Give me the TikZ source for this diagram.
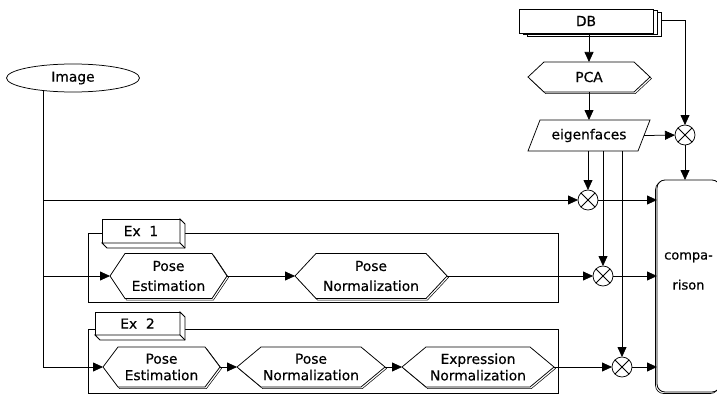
\documentclass[tikz,border=0pt]{standalone}
\usepackage{fontspec}
\setmainfont{DejaVu Sans}[FakeBold=0.35]
\usetikzlibrary{arrows.meta,shadows,calc,shapes.geometric}
\pgfdeclarelayer{background}
\pgfsetlayers{background,main}
\begin{document}
\begin{tikzpicture}[x=1pt,y=-1pt,
  every node/.style={inner sep=0pt, outer sep=0pt, font=\fontsize{13.8}{19}\selectfont},
  ln/.style={line width=0.75pt},
  arr/.style={line width=0.75pt,-{Triangle[length=10pt,width=9pt]}},
  hexnode/.style={align=center, minimum height=#1},
  rowa/.style={font=\fontsize{13.8}{20}\selectfont},
  rowb/.style={font=\fontsize{13.8}{16.5}\selectfont},
  hexline/.style={draw, line width=0.75pt, fill=white},
  hexshadow/.style={draw, line width=0.5pt, fill=white},
  exbox/.style={draw, line width=0.75pt, fill=white},
  frame/.style={draw, line width=0.85pt},
  otimes/.style={circle, draw, line width=0.75pt, fill=white, minimum size=20pt,
    path picture={\draw[line width=0.75pt] (path picture bounding box.north west) -- (path picture bounding box.south east) (path picture bounding box.north east) -- (path picture bounding box.south west);}},
]
\useasboundingbox (0,0) rectangle (717,396);

% image
\node[ellipse, draw, line width=0.75pt, minimum width=133pt, minimum height=28pt] (img) at (73,78) {Image};

% frames
\node[frame, minimum width=470pt, minimum height=69pt] (f1) at (323,267.5) {};
\node[frame, minimum width=470pt, minimum height=64pt] (f2) at (323,361) {};

% Ex boxes
\node[exbox, minimum width=78pt, minimum height=24pt] (ex1) at (141,231) {Ex\ \ 1};
\node[exbox, minimum width=85pt, minimum height=23pt] (ex2) at (137.5,323.5) {Ex\ \ 2};
\foreach \n in {ex1,ex2} {
  \draw[exbox] (\n.north east) -- ([shift={(5pt,-5pt)}]\n.north east) -- ([shift={(5pt,-5pt)}]\n.south east) -- ([shift={(5pt,-5pt)}]\n.south west) -- (\n.south west) -- (\n.south east) -- cycle;
  \draw[ln] (\n.south east) -- ([shift={(5pt,-5pt)}]\n.south east);
}

% hexagon nodes
\node[hexnode=45pt, rowa, minimum width=117pt] (pe1) at (168.5,276) {Pose\\Estimation};
\node[hexnode=45pt, rowa, minimum width=152pt] (pn1) at (371,276) {Pose\\Normalization};
\node[hexnode=40pt, rowb, minimum width=117pt] (pe2) at (161.5,367) {Pose\\Estimation};
\node[hexnode=40pt, rowb, minimum width=148pt] (pn2) at (311,367) {Pose\\Normalization};
\node[hexnode=40pt, rowb, minimum width=152pt] (en) at (478,367) {Expression\\Normalization};
\node[hexnode=30pt, minimum width=122pt] (pca) at (589,77) {PCA};

\begin{pgfonlayer}{background}
\foreach \n/\d in {pe1/15,pn1/21,pe2/15,pn2/24,en/24,pca/16} {
  \path[hexshadow] ([xshift=1.5pt,yshift=-1.5pt]\n.west) -- ([xshift={(\d+1.5)*1pt},yshift=-1.5pt]\n.north west) -- ([xshift={(-\d+1.5)*1pt},yshift=-1.5pt]\n.north east) -- ([xshift=1.5pt,yshift=-1.5pt]\n.east) -- ([xshift={(-\d+1.5)*1pt},yshift=-1.5pt]\n.south east) -- ([xshift={(\d+1.5)*1pt},yshift=-1.5pt]\n.south west) -- cycle;
  \path[hexline] (\n.west) -- ([xshift=\d*1pt]\n.north west) -- ([xshift=-\d*1pt]\n.north east) -- (\n.east) -- ([xshift=-\d*1pt]\n.south east) -- ([xshift=\d*1pt]\n.south west) -- cycle;
}
\end{pgfonlayer}

% DB
\node[draw, fill=white, line width=0.75pt, minimum width=134pt, minimum height=24pt,
  double copy shadow={shadow xshift=4pt, shadow yshift=-1.5pt, draw=black, fill=white, line width=0.5pt}] (db) at (586,21) {DB};

% eigenfaces
\node[minimum width=122pt, minimum height=31pt] (eig) at (589,135.5) {eigenfaces};
\draw[ln] ([xshift=12pt]eig.north west) -- (eig.north east) -- ([xshift=-12pt]eig.south east) -- (eig.south west) -- cycle;

% otimes
\node[otimes] (o1) at (588,200) {};
\node[otimes] (o2) at (603,276) {};
\node[otimes] (o3) at (622,367) {};
\node[otimes] (o4) at (685,135) {};

% comparison
\node[draw, rounded corners=8pt, line width=0.85pt, fill=white, minimum width=63pt, minimum height=212pt,
  copy shadow={shadow xshift=-1.5pt, shadow yshift=-1.5pt, draw=black, fill=white, line width=0.6pt},
  label={[align=center, yshift=15pt, font=\fontsize{13}{30}\selectfont]center:compa-\\rison}] (comp) at (688.5,286) {};

% connectors
\draw[arr] (img.203) |- (pe2.west);
\draw[arr] (img.203 |- pe1.west) -- (pe1.west);
\draw[arr] (img.203 |- o1) -- (o1);
\draw[arr] (pe1.east) -- (pn1.west);
\draw[arr] (pn1.east) -- (o2);
\draw[arr] (pe2.east) -- (pn2.west);
\draw[arr] (pn2.east) -- (en.west);
\draw[arr] (en.east) -- (o3);
\draw[arr] (pca |- db.south) -- (pca.north);
\draw[arr] (pca.south) -- (eig.north);
\draw[arr] ($(eig.east)+(-6,0)$) -- (o4);
\draw[arr] ($(db.east)+(8,-1)$) -| (o4);
\draw[arr] (o1 |- eig.south) -- (o1);
\draw[arr] (o2 |- eig.south) -- (o2);
\draw[arr] (o3 |- eig.south) -- (o3);
\draw[arr] (o1) -- (o1 -| comp.west);
\draw[arr] (o2) -- (o2 -| comp.west);
\draw[arr] (o3) -- (o3 -| comp.west);
\draw[arr] (o4) -- (o4 |- comp.north);
\end{tikzpicture}
\end{document}
